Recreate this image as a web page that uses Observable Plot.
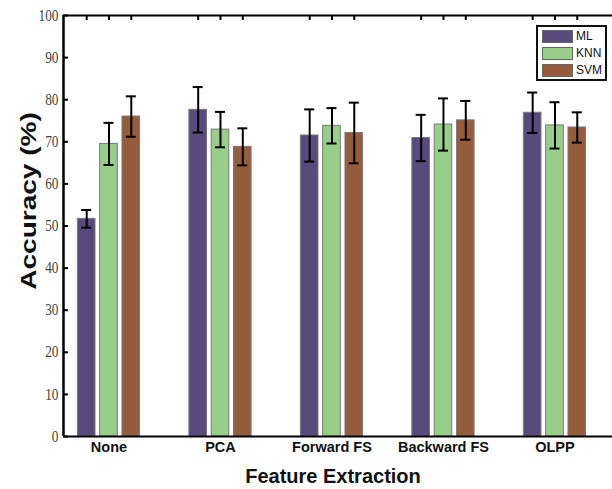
<!DOCTYPE html>
<html>
<head>
<meta charset="utf-8">
<script src="https://cdn.jsdelivr.net/npm/d3@7"></script>
<script src="https://cdn.jsdelivr.net/npm/@observablehq/plot@0.6"></script>
<style>
  html, body { margin: 0; padding: 0; background: #fff; overflow: hidden; }
  #wrap { position: relative; width: 612px; height: 489px; overflow: hidden; }
  .title { position: absolute; font-family: "Liberation Sans", Arial, sans-serif; font-weight: bold; color: #111; white-space: nowrap; }
  #legend { position: absolute; left: 536px; top: 25px; width: 67px; height: 52px; border: 2px solid #111; background: #fff; }
  .lrow { position: absolute; left: 4px; height: 14px; display: flex; align-items: center; font-family: "Liberation Sans", Arial, sans-serif; font-size: 12px; color: #111; }
  .sw { width: 31px; height: 13px; border: 1px solid #666; margin-right: 3px; box-sizing: border-box; }
</style>
</head>
<body>
<div id="wrap"></div>
<script>
const groups = ["None", "PCA", "Forward FS", "Backward FS", "OLPP"];
const methods = ["ML", "KNN", "SVM"];
const colors = ["#584a7d", "#98ce8a", "#965c3e"];
const mlMean  = [51.7, 77.6, 71.5, 70.9, 76.9];
const mlErr   = [2.1, 5.4, 6.2, 5.5, 4.8];
const knnMean = [69.5, 72.9, 73.8, 74.1, 73.9];
const knnErr  = [5.0, 4.2, 4.2, 6.2, 5.5];
const svmMean = [76.0, 68.8, 72.1, 75.1, 73.4];
const svmErr  = [4.8, 4.4, 7.2, 4.6, 3.6];
const yTicks = [0, 10, 20, 30, 40, 50, 60, 70, 80, 90, 100];

const means = [mlMean, knnMean, svmMean];
const errs = [mlErr, knnErr, svmErr];
const data = [];
groups.forEach((g, gi) => methods.forEach((m, mi) => {
  data.push({group: g, gi, method: m, mi, mean: means[mi][gi], err: errs[mi][gi], pos: gi + (mi - 1) * 0.2});
}));

const xDom = [-0.408, 4.516];
const halfBar = 0.079;
const cap = 0.045;
const tickX = 5 / 111.5;
const tickY = 5 / 4.21;

const chart = Plot.plot({
  width: 612,
  height: 489,
  marginLeft: 63,
  marginRight: 0,
  marginTop: 15,
  marginBottom: 53,
  x: {domain: xDom},
  y: {domain: [0, 100]},
  color: {domain: methods, range: colors},
  style: {background: "#fff", overflow: "visible"},
  marks: [
    Plot.rectY(data, {x1: d => d.pos - halfBar, x2: d => d.pos + halfBar, y1: 0, y2: "mean", fill: "method", stroke: "#7a7a7a", strokeWidth: 1}),
    Plot.ruleX(data, {x: "pos", y1: d => d.mean - d.err, y2: d => d.mean + d.err, stroke: "#000", strokeWidth: 2}),
    Plot.ruleY(data, {y: d => d.mean - d.err, x1: d => d.pos - cap, x2: d => d.pos + cap, stroke: "#000", strokeWidth: 2}),
    Plot.ruleY(data, {y: d => d.mean + d.err, x1: d => d.pos - cap, x2: d => d.pos + cap, stroke: "#000", strokeWidth: 2}),
    Plot.ruleY([0, 100], {stroke: "#000", strokeWidth: 2.2}),
    Plot.ruleX([xDom[0]], {y1: 0, y2: 100, stroke: "#000", strokeWidth: 2.5}),
    Plot.ruleY(yTicks, {y: d => d, x1: xDom[0], x2: xDom[0] + tickX, stroke: "#000", strokeWidth: 2}),
    Plot.ruleX(data, {x: "pos", y1: 100, y2: 100 - tickY, stroke: "#000", strokeWidth: 2}),
    Plot.axisY(yTicks, {tickSize: 0, tickPadding: 5, label: null, fontFamily: "Liberation Serif, serif", fontSize: 16, fill: "#444", className: "ylab"}),
    Plot.axisX([0, 1, 2, 3, 4], {tickSize: 0, tickPadding: 5, tickFormat: i => groups[i], label: null, fontFamily: "Liberation Sans, Arial, sans-serif", fontWeight: "bold", fontSize: 14.5, fill: "#111"})
  ]
});

// condense the serif tick labels like the reference
chart.querySelectorAll("g[aria-label='y-axis tick label'] text").forEach(t => {
  const tr = t.getAttribute("transform") || "";
  t.setAttribute("transform", tr + " scale(0.83,1)");
});

const wrap = document.getElementById("wrap");
wrap.appendChild(chart);

const xt = document.createElement("div");
xt.className = "title";
xt.textContent = "Feature Extraction";
xt.style.fontSize = "20px";
xt.style.left = "333px";
xt.style.top = "476px";
xt.style.transform = "translate(-50%, -50%)";
wrap.appendChild(xt);

const yt = document.createElement("div");
yt.className = "title";
yt.textContent = "Accuracy (%)";
yt.style.fontSize = "28px";
yt.style.left = "29px";
yt.style.top = "201px";
yt.style.transform = "translate(-50%, -50%) scaleX(0.78) rotate(-90deg)";
wrap.appendChild(yt);

const lg = document.createElement("div");
lg.id = "legend";
methods.forEach((m, i) => {
  const r = document.createElement("div");
  r.className = "lrow";
  r.style.top = (2 + i * 17) + "px";
  const s = document.createElement("div");
  s.className = "sw";
  s.style.background = colors[i];
  const t = document.createElement("span");
  t.textContent = m;
  r.appendChild(s); r.appendChild(t);
  lg.appendChild(r);
});
wrap.appendChild(lg);
</script>
</body>
</html>
